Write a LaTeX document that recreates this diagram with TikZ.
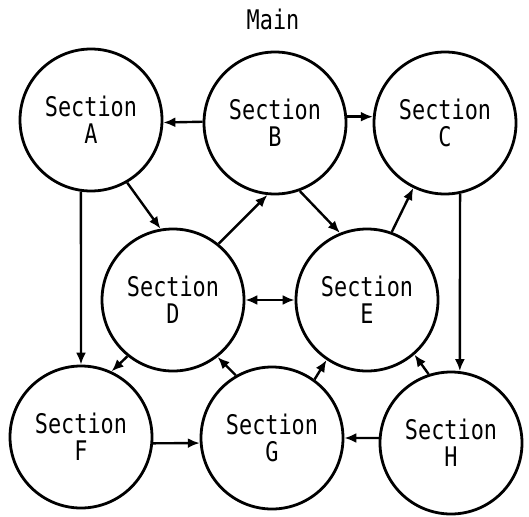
\documentclass[tikz,border=0pt]{standalone}
\usepackage{fontspec}
\usepackage{tikz}
\usetikzlibrary{arrows.meta}
\newfontfamily\plotfont[FakeStretch=0.81]{DejaVu Sans Mono}
\tikzset{
  section/.style={circle,draw=black,line width=2.8pt,minimum size=142pt,inner sep=0pt,align=center,font=\plotfont\fontsize{27}{27}\selectfont},
  label/.style={font=\plotfont\fontsize{27}{27}\selectfont},
  arrow/.style={-{Latex[length=12pt,width=10pt]},line width=2.4pt,draw=black},
  twoway/.style={{Latex[length=12pt,width=10pt]}-{Latex[length=12pt,width=10pt]},line width=2.4pt,draw=black}
}
\begin{document}
\begin{tikzpicture}[x=1pt,y=-1pt]
  \useasboundingbox (0,0) rectangle (529,516);
  \node[label] (main) at (273,19) {Main};

  \node[section] (A) at (91,120) {Section\\A};
  \node[section] (B) at (275,123) {Section\\B};
  \node[section] (C) at (445,123) {Section\\C};
  \node[section] (D) at (173,300) {Section\\D};
  \node[section] (E) at (367,300) {Section\\E};
  \node[section] (F) at (81,437) {Section\\F};
  \node[section] (G) at (272,438) {Section\\G};
  \node[section] (H) at (451,443) {Section\\H};

  \draw[arrow] (B.179) -- (A.-2);
  \draw[arrow] (B.5) -- (C.175);
  \draw[arrow] (A.-60) -- (D.100);
  \draw[arrow] (D.51) -- (B.264);
  \draw[arrow] (B.-70) -- (E.112);
  \draw[arrow] (E.70) -- (C.244);
  \draw[twoway] (D) -- (E);
  \draw[arrow] (A.262) -- (F.north);
  \draw[arrow] (C.282) -- (H.83);
  \draw[arrow] (D.231) -- (F.65);
  \draw[arrow] (G.120) -- (D.308);
  \draw[arrow] (G.54) -- (E.236);
  \draw[arrow] (H.108) -- (E.311);
  \draw[arrow] (F.-5) -- (G.184);
  \draw[arrow] (H.176) -- (G.0);
\end{tikzpicture}
\end{document}
